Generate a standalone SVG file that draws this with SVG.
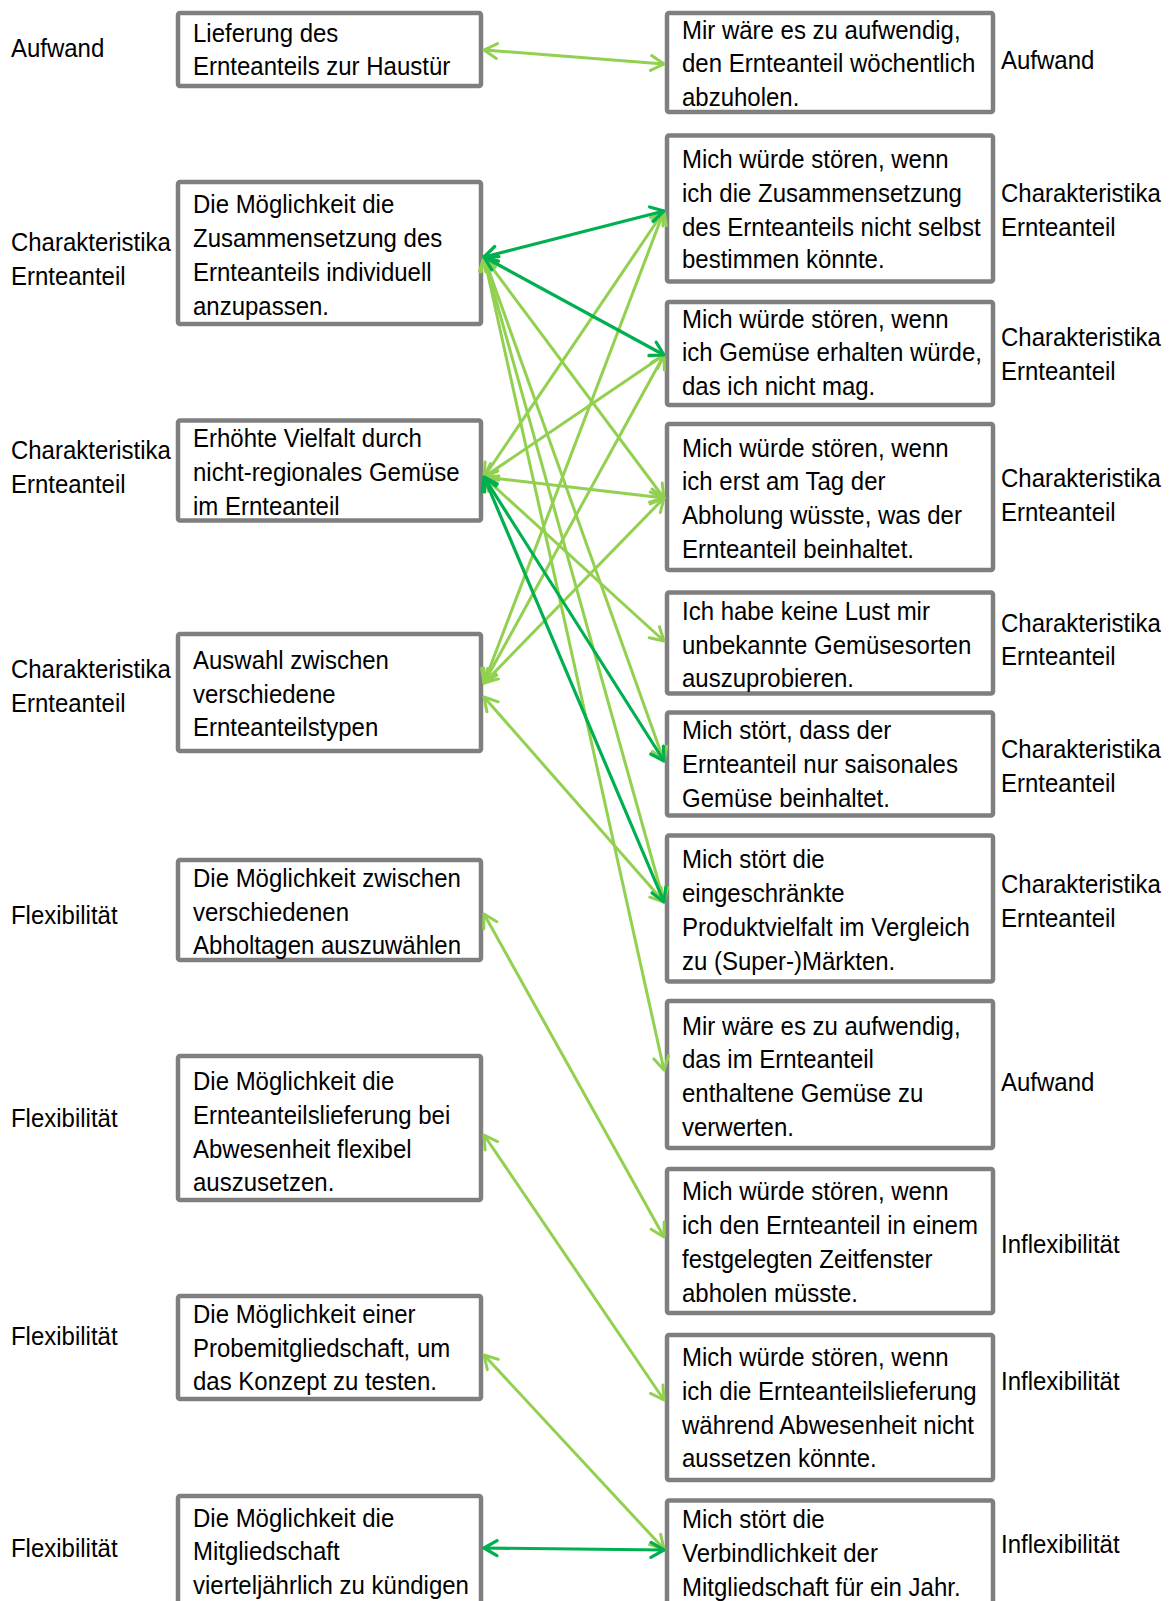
<svg xmlns="http://www.w3.org/2000/svg" width="1175" height="1601" viewBox="0 0 1175 1601">
<style>
text{font-family:"Liberation Sans",Arial,sans-serif;font-size:26px;fill:#000}
.t{transform:scale(0.923,1)}
.box{fill:#fff;stroke:#7f7f7f;stroke-width:4.5}
.cl{stroke:#92D050;stroke-width:3;fill:none;marker-start:url(#ml);marker-end:url(#ml)}
.cd{stroke:#00B050;stroke-width:3.2;fill:none;marker-start:url(#md);marker-end:url(#md)}
</style>
<defs>
<marker id="ml" markerUnits="userSpaceOnUse" viewBox="-2 -10 18 20" refX="14" refY="0" markerWidth="18" markerHeight="20" orient="auto-start-reverse"><path d="M1,-7.5 L14,0 L1,7.5" fill="none" stroke="#92D050" stroke-width="3" stroke-linecap="round" stroke-linejoin="round"/></marker>
<marker id="md" markerUnits="userSpaceOnUse" viewBox="-2 -10 18 20" refX="14" refY="0" markerWidth="18" markerHeight="20" orient="auto-start-reverse"><path d="M1,-7.5 L14,0 L1,7.5" fill="none" stroke="#00B050" stroke-width="3.2" stroke-linecap="round" stroke-linejoin="round"/></marker>
</defs>
<rect width="1175" height="1601" fill="#fff"/>

<g id="labels-left"><g class="t">
<text x="11.9" y="57">Aufwand</text>
<text x="11.9" y="251">Charakteristika</text><text x="11.9" y="285">Ernteanteil</text>
<text x="11.9" y="459">Charakteristika</text><text x="11.9" y="493">Ernteanteil</text>
<text x="11.9" y="678">Charakteristika</text><text x="11.9" y="712">Ernteanteil</text>
<text x="11.9" y="924">Flexibilität</text>
<text x="11.9" y="1127">Flexibilität</text>
<text x="11.9" y="1345">Flexibilität</text>
<text x="11.9" y="1557">Flexibilität</text>
</g></g>
<g id="labels-right"><g class="t">
<text x="1084.5" y="69">Aufwand</text>
<text x="1084.5" y="202">Charakteristika</text><text x="1084.5" y="236">Ernteanteil</text>
<text x="1084.5" y="346">Charakteristika</text><text x="1084.5" y="380">Ernteanteil</text>
<text x="1084.5" y="487">Charakteristika</text><text x="1084.5" y="521">Ernteanteil</text>
<text x="1084.5" y="632">Charakteristika</text><text x="1084.5" y="665">Ernteanteil</text>
<text x="1084.5" y="758">Charakteristika</text><text x="1084.5" y="792">Ernteanteil</text>
<text x="1084.5" y="893">Charakteristika</text><text x="1084.5" y="927">Ernteanteil</text>
<text x="1084.5" y="1091">Aufwand</text>
<text x="1084.5" y="1253">Inflexibilität</text>
<text x="1084.5" y="1390">Inflexibilität</text>
<text x="1084.5" y="1553">Inflexibilität</text>
</g></g>

<g id="L1"><rect class="box" x="178" y="13" width="303" height="73" rx="2"/>
<g class="t"><text x="209.1" y="42.5">Lieferung des</text><text x="209.1" y="75.5">Ernteanteils zur Haustür</text></g></g>
<g id="L2"><rect class="box" x="178" y="182" width="303" height="142" rx="2"/>
<g class="t"><text x="209.1" y="213">Die Möglichkeit die</text><text x="209.1" y="247">Zusammensetzung des</text><text x="209.1" y="281">Ernteanteils individuell</text><text x="209.1" y="315">anzupassen.</text></g></g>
<g id="L3"><rect class="box" x="178" y="420.5" width="303" height="100" rx="2"/>
<g class="t"><text x="209.1" y="447">Erhöhte Vielfalt durch</text><text x="209.1" y="481">nicht-regionales Gemüse</text><text x="209.1" y="515">im Ernteanteil</text></g></g>
<g id="L4"><rect class="box" x="178" y="634" width="303" height="117" rx="2"/>
<g class="t"><text x="209.1" y="669">Auswahl zwischen</text><text x="209.1" y="703">verschiedene</text><text x="209.1" y="736">Ernteanteilstypen</text></g></g>
<g id="L5"><rect class="box" x="178" y="860" width="303" height="100" rx="2"/>
<g class="t"><text x="209.1" y="887">Die Möglichkeit zwischen</text><text x="209.1" y="921">verschiedenen</text><text x="209.1" y="954">Abholtagen auszuwählen</text></g></g>
<g id="L6"><rect class="box" x="178" y="1056" width="303" height="144" rx="2"/>
<g class="t"><text x="209.1" y="1090">Die Möglichkeit die</text><text x="209.1" y="1124">Ernteanteilslieferung bei</text><text x="209.1" y="1158">Abwesenheit flexibel</text><text x="209.1" y="1191">auszusetzen.</text></g></g>
<g id="L7"><rect class="box" x="178" y="1296" width="303" height="103" rx="2"/>
<g class="t"><text x="209.1" y="1323">Die Möglichkeit einer</text><text x="209.1" y="1357">Probemitgliedschaft, um</text><text x="209.1" y="1390">das Konzept zu testen.</text></g></g>
<g id="L8"><rect class="box" x="178" y="1496" width="303" height="120" rx="2"/>
<g class="t"><text x="209.1" y="1527">Die Möglichkeit die</text><text x="209.1" y="1560">Mitgliedschaft</text><text x="209.1" y="1594">vierteljährlich zu kündigen</text></g></g>

<g id="R1"><rect class="box" x="667" y="13" width="326" height="99" rx="2"/>
<g class="t"><text x="738.9" y="39">Mir wäre es zu aufwendig,</text><text x="738.9" y="72">den Ernteanteil wöchentlich</text><text x="738.9" y="106">abzuholen.</text></g></g>
<g id="R2"><rect class="box" x="667" y="135.5" width="326" height="146" rx="2"/>
<g class="t"><text x="738.9" y="168">Mich würde stören, wenn</text><text x="738.9" y="202">ich die Zusammensetzung</text><text x="738.9" y="236">des Ernteanteils nicht selbst</text><text x="738.9" y="268.5">bestimmen könnte.</text></g></g>
<g id="R3"><rect class="box" x="667" y="302" width="326" height="103" rx="2"/>
<g class="t"><text x="738.9" y="328">Mich würde stören, wenn</text><text x="738.9" y="361.5">ich Gemüse erhalten würde,</text><text x="738.9" y="395">das ich nicht mag.</text></g></g>
<g id="R4"><rect class="box" x="667" y="424" width="326" height="146" rx="2"/>
<g class="t"><text x="738.9" y="457">Mich würde stören, wenn</text><text x="738.9" y="490">ich erst am Tag der</text><text x="738.9" y="524">Abholung wüsste, was der</text><text x="738.9" y="558">Ernteanteil beinhaltet.</text></g></g>
<g id="R5"><rect class="box" x="667" y="592.5" width="326" height="101" rx="2"/>
<g class="t"><text x="738.9" y="620">Ich habe keine Lust mir</text><text x="738.9" y="654">unbekannte Gemüsesorten</text><text x="738.9" y="687">auszuprobieren.</text></g></g>
<g id="R6"><rect class="box" x="667" y="712.5" width="326" height="103" rx="2"/>
<g class="t"><text x="738.9" y="739.5">Mich stört, dass der</text><text x="738.9" y="773.5">Ernteanteil nur saisonales</text><text x="738.9" y="807">Gemüse beinhaltet.</text></g></g>
<g id="R7"><rect class="box" x="667" y="835.5" width="326" height="146" rx="2"/>
<g class="t"><text x="738.9" y="868.5">Mich stört die</text><text x="738.9" y="902">eingeschränkte</text><text x="738.9" y="936">Produktvielfalt im Vergleich</text><text x="738.9" y="970">zu (Super-)Märkten.</text></g></g>
<g id="R8"><rect class="box" x="667" y="1001" width="326" height="147" rx="2"/>
<g class="t"><text x="738.9" y="1035">Mir wäre es zu aufwendig,</text><text x="738.9" y="1068.5">das im Ernteanteil</text><text x="738.9" y="1102.5">enthaltene Gemüse zu</text><text x="738.9" y="1136">verwerten.</text></g></g>
<g id="R9"><rect class="box" x="667" y="1169" width="326" height="144" rx="2"/>
<g class="t"><text x="738.9" y="1200">Mich würde stören, wenn</text><text x="738.9" y="1234">ich den Ernteanteil in einem</text><text x="738.9" y="1268">festgelegten Zeitfenster</text><text x="738.9" y="1302">abholen müsste.</text></g></g>
<g id="R10"><rect class="box" x="667" y="1335" width="326" height="145" rx="2"/>
<g class="t"><text x="738.9" y="1366">Mich würde stören, wenn</text><text x="738.9" y="1400">ich die Ernteanteilslieferung</text><text x="738.9" y="1434">während Abwesenheit nicht</text><text x="738.9" y="1467.5">aussetzen könnte.</text></g></g>
<g id="R11"><rect class="box" x="667" y="1500.5" width="326" height="120" rx="2"/>
<g class="t"><text x="738.9" y="1528.5">Mich stört die</text><text x="738.9" y="1562.5">Verbindlichkeit der</text><text x="738.9" y="1596">Mitgliedschaft für ein Jahr.</text></g></g>

<g id="connectors">
<line class="cl" x1="484" y1="50" x2="664" y2="64"/>
<line class="cl" x1="484" y1="257" x2="664" y2="498"/>
<line class="cl" x1="484" y1="257" x2="664" y2="761"/>
<line class="cl" x1="484" y1="257" x2="664" y2="902"/>
<line class="cl" x1="484" y1="257" x2="664" y2="1070"/>
<line class="cl" x1="484" y1="477" x2="664" y2="211"/>
<line class="cl" x1="484" y1="477" x2="664" y2="355"/>
<line class="cl" x1="484" y1="477" x2="664" y2="498"/>
<line class="cl" x1="484" y1="477" x2="664" y2="641"/>
<line class="cl" x1="484" y1="683" x2="664" y2="211"/>
<line class="cl" x1="484" y1="683" x2="664" y2="355"/>
<line class="cl" x1="484" y1="683" x2="664" y2="498"/>
<line class="cl" x1="484" y1="697" x2="664" y2="902"/>
<line class="cl" x1="484" y1="914" x2="664" y2="1237"/>
<line class="cl" x1="484" y1="1135" x2="664" y2="1400"/>
<line class="cl" x1="484" y1="1355" x2="664" y2="1549"/>
<line class="cd" x1="484" y1="257" x2="664" y2="211"/>
<line class="cd" x1="484" y1="257" x2="664" y2="355"/>
<line class="cd" x1="484" y1="477" x2="664" y2="761"/>
<line class="cd" x1="484" y1="477" x2="664" y2="902"/>
<line class="cd" x1="484" y1="1548" x2="664" y2="1550"/>
</g>
</svg>
